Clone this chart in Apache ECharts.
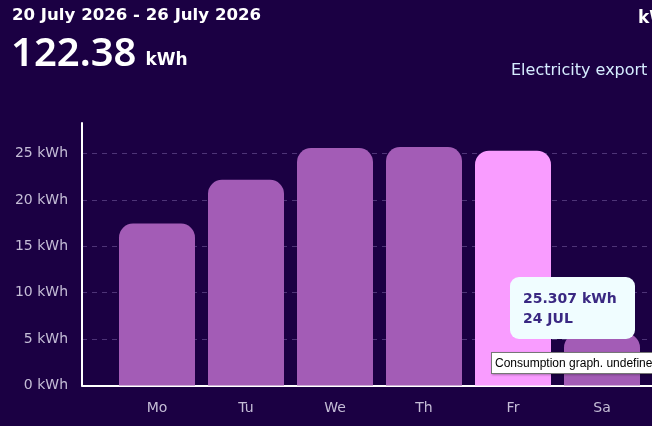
<!DOCTYPE html>
<html>
<head>
<meta charset="utf-8">
<script src="https://cdn.jsdelivr.net/npm/echarts@6/dist/echarts.min.js"></script>
<style>
  html, body { margin: 0; padding: 0; width: 652px; height: 426px; overflow: hidden; background: #1b0043; }
  #chart { position: absolute; left: 0; top: 0; width: 652px; height: 426px; }
  #nativeTip {
    position: absolute; left: 491px; top: 352px; white-space: nowrap;
    background: #ffffff; color: #000; border: 1px solid #767676;
    font-family: "Liberation Sans", "Noto Sans", sans-serif; font-size: 12px;
    padding: 1px 3px; line-height: 18px; box-shadow: 1px 1px 2px rgba(0,0,0,0.3);
  }
</style>
</head>
<body>
<div id="chart"></div>
<div id="nativeTip">Consumption graph. undefined</div>
<script>
// ---- data ----
const days = ['Mo', 'Tu', 'We', 'Th', 'Fr', 'Sa', 'Su'];
const dates = ['20 JUL', '21 JUL', '22 JUL', '23 JUL', '24 JUL', '25 JUL', '26 JUL'];
const exportKWh = [17.46, 22.17, 25.6, 25.7, 25.307, 5.6, 0.54];
const yTicks = [0, 5, 10, 15, 20, 25];
const periodLabel = '20 July 2026 - 26 July 2026';
const totalKWh = '122.38';
const unit = 'kWh';
const seriesLabel = 'Electricity export';
const highlightIndex = 4;

const chart = echarts.init(document.getElementById('chart'), null, { renderer: 'canvas' });
const yMax = 28.3;
const font = '"DejaVu Sans", "Noto Sans", sans-serif';
const bigFont = '"Noto Sans", "Open Sans", sans-serif';

const option = {
  animation: false,
  backgroundColor: '#1b0043',
  title: [
    { text: periodLabel, left: 12, top: 7, padding: 0,
      textStyle: { color: '#ffffff', fontSize: 16.6, fontWeight: 600, fontFamily: font } },
    { text: '{big|' + totalKWh + '} {u|' + unit + '}', left: 11, top: 35, padding: 0,
      textStyle: { rich: {
        big: { color: '#ffffff', fontSize: 40, fontWeight: 600, fontFamily: bigFont },
        u: { color: '#ffffff', fontSize: 17, fontWeight: 700, fontFamily: font, padding: [12, 0, 0, 4] }
      } } },
    { text: 'kWh', left: 638, top: 10, padding: 0,
      textStyle: { color: '#ffffff', fontSize: 17, fontWeight: 700, fontFamily: font } },
    { text: seriesLabel, left: 511, top: 63, padding: 0,
      textStyle: { color: '#d6ecff', fontSize: 16, fontWeight: 400, fontFamily: font } }
  ],
  tooltip: {
    trigger: 'item',
    alwaysShowContent: true,
    transitionDuration: 0,
    backgroundColor: '#f0fdff',
    borderWidth: 0,
    borderRadius: 9,
    padding: [11, 10, 11, 13],
    extraCssText: 'box-shadow:none;width:102px;',
    position: [510, 277],
    formatter: function (p) {
      return '<div style="line-height:20px;font-weight:700;color:#3a2882;font-size:14px;font-family:' +
        font.replace(/"/g, "'") + ';">' +
        exportKWh[p.dataIndex] + ' ' + unit + '<br>' + dates[p.dataIndex] + '</div>';
    }
  },
  grid: [
    { left: 82, top: 123, width: 653, height: 262.5, outerBoundsMode: 'none', containLabel: false },
    { left: 112.5, top: 123, width: 623, height: 262.5, outerBoundsMode: 'none', containLabel: false }
  ],
  xAxis: [
    { gridIndex: 0, type: 'value', min: 0, max: 1,
      axisLine: { show: true, onZero: false, lineStyle: { color: '#ffffff', width: 2 } },
      axisTick: { show: false }, axisLabel: { show: false }, splitLine: { show: false } },
    { gridIndex: 1, type: 'category', data: days,
      axisLine: { show: false }, axisTick: { show: false },
      axisLabel: { color: '#c4bcd6', fontSize: 14, fontFamily: font, margin: 16 } }
  ],
  yAxis: [
    { gridIndex: 0, type: 'value', min: 0, max: yMax, interval: 5,
      axisLine: { show: true, lineStyle: { color: '#ffffff', width: 2 } },
      axisTick: { show: false },
      axisLabel: { color: '#c4bcd6', fontSize: 14, fontFamily: font, margin: 14, showMaxLabel: false,
        formatter: v => (yTicks.indexOf(v) >= 0 ? v + ' ' + unit : '') },
      splitLine: { show: true, showMaxLine: false,
        lineStyle: { color: '#4e3477', type: [5, 5], width: 1 } } },
    { gridIndex: 1, type: 'value', min: 0, max: yMax, interval: 5, show: false,
      splitLine: { show: false } }
  ],
  series: [{
    type: 'bar',
    xAxisIndex: 1, yAxisIndex: 1,
    barWidth: 76,
    data: exportKWh.map((v, i) => ({
      value: v,
      itemStyle: { color: i === highlightIndex ? '#f99cff' : '#a35cb6' }
    })),
    itemStyle: { borderRadius: [14, 14, 0, 0] },
    emphasis: { disabled: true }
  }]
};
chart.setOption(option);
chart.dispatchAction({ type: 'showTip', seriesIndex: 0, dataIndex: highlightIndex });
setTimeout(() => chart.dispatchAction({ type: 'showTip', seriesIndex: 0, dataIndex: highlightIndex }), 50);
</script>
</body>
</html>
